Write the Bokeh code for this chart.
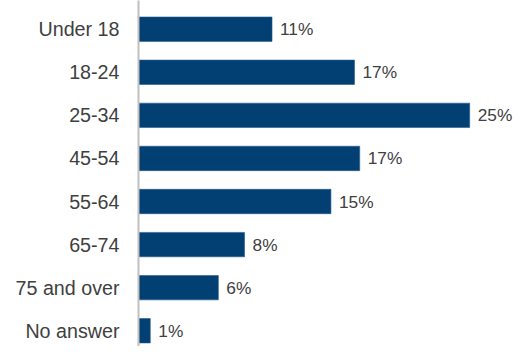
from bokeh.plotting import figure
from bokeh.models import Range1d, FixedTicker, ColumnDataSource
from bokeh.core.properties import value
from bokeh.embed import file_html
from bokeh.resources import INLINE

# Data
categories = ["Under 18", "18-24", "25-34", "45-54", "55-64", "65-74", "75 and over", "No answer"]
shares = [10.2, 16.5, 25.3, 16.9, 14.7, 8.1, 6.1, 0.9]
share_labels = ["11%", "17%", "25%", "17%", "15%", "8%", "6%", "1%"]

positions = list(range(len(categories)))

src = ColumnDataSource(dict(y=positions, share=shares, label=share_labels))

W, H = 514, 346
left_border = 138
px_per_pct = 13.09
step = 43.08          # px per category
top_pad = 28.7 / step
bottom = H / step - top_pad

p = figure(width=W, height=H, output_backend="svg", toolbar_location=None,
           x_range=Range1d(0, (W - left_border) / px_per_pct), y_range=Range1d(bottom, -top_pad),
           min_border_left=left_border, min_border_right=0, min_border_top=0, min_border_bottom=0)

p.hbar(y="y", left=0, right="share", height=0.566, source=src,
       fill_color="#023f73", line_color="#2a5a88", line_width=0.6)

p.text(x="share", y="y", text="label", source=src, x_offset=8,
       text_baseline="middle", text_align="left",
       text_font=value("Liberation Sans"), text_font_size="17.3px", text_color="#404040")

p.xaxis.visible = False
p.xgrid.visible = False
p.ygrid.visible = False
p.outline_line_color = None

ya = p.yaxis[0]
ya.ticker = FixedTicker(ticks=positions)
ya.major_label_overrides = {i: c for i, c in zip(positions, categories)}
ya.major_tick_line_color = None
ya.minor_tick_line_color = None
ya.major_tick_out = 0
ya.major_tick_in = 0
ya.axis_line_color = "#c0c0c0"
ya.axis_line_width = 2
ya.major_label_standoff = 19
ya.major_label_text_font = "Liberation Sans"
ya.major_label_text_font_size = "19.7px"
ya.major_label_text_color = "#404040"

open("out.html", "w").write(file_html(p, INLINE))
